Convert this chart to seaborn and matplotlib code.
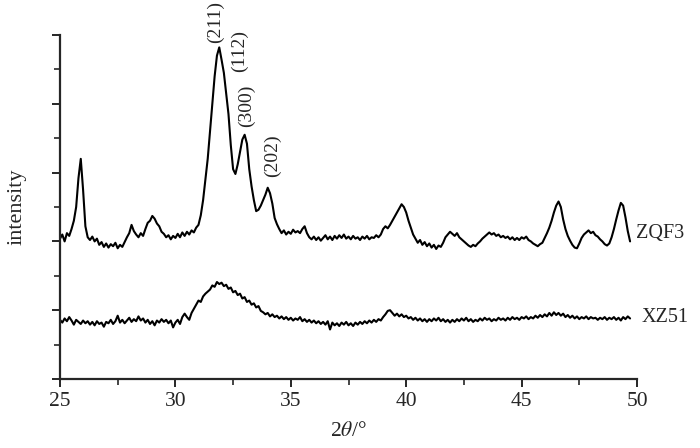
import numpy as np
import pandas as pd
import seaborn as sns
import matplotlib
matplotlib.use("Agg")
import matplotlib.pyplot as plt
from matplotlib.ticker import MultipleLocator, NullFormatter

# XRD patterns, one value per 0.1 deg starting at 25.0 deg
zqf3 = [
    2.04, 2.10, 2.00, 2.12, 2.08, 2.18, 2.30, 2.50, 2.92, 3.20,
    2.75, 2.22, 2.06, 2.02, 2.07, 2.00, 2.04, 1.95, 1.99, 1.92,
    1.97, 1.91, 1.96, 1.93, 1.98, 1.90, 1.95, 1.92, 1.99, 2.06,
    2.12, 2.24, 2.15, 2.10, 2.06, 2.12, 2.08, 2.18, 2.27, 2.30,
    2.37, 2.33, 2.26, 2.22, 2.14, 2.11, 2.06, 2.09, 2.03, 2.08,
    2.05, 2.11, 2.06, 2.13, 2.08, 2.14, 2.10, 2.16, 2.13, 2.20,
    2.24, 2.38, 2.60, 2.90, 3.20, 3.60, 4.00, 4.40, 4.70, 4.82,
    4.64, 4.45, 4.15, 3.85, 3.40, 3.05, 2.98, 3.12, 3.30, 3.48,
    3.55, 3.42, 3.05, 2.80, 2.60, 2.44, 2.46, 2.52, 2.60, 2.68,
    2.78, 2.70, 2.55, 2.34, 2.25, 2.18, 2.12, 2.16, 2.10, 2.14,
    2.11, 2.17, 2.13, 2.15, 2.12, 2.18, 2.22, 2.12, 2.06, 2.03,
    2.07, 2.02, 2.06, 2.01, 2.05, 2.09, 2.03, 2.07, 2.02, 2.08,
    2.04, 2.09, 2.05, 2.10, 2.04, 2.07, 2.03, 2.08, 2.04, 2.06,
    2.02, 2.07, 2.04, 2.08, 2.03, 2.06, 2.05, 2.09, 2.06, 2.10,
    2.18, 2.22, 2.19, 2.24, 2.30, 2.36, 2.42, 2.48, 2.54, 2.50,
    2.42, 2.30, 2.20, 2.10, 2.04, 1.98, 2.02, 1.95, 1.99, 1.93,
    1.97, 1.91, 1.95, 1.89, 1.94, 1.92, 1.98, 2.06, 2.10, 2.14,
    2.11, 2.08, 2.12, 2.06, 2.03, 2.00, 1.97, 1.94, 1.92, 1.95,
    1.93, 1.97, 2.00, 2.04, 2.07, 2.10, 2.13, 2.10, 2.12, 2.08,
    2.10, 2.06, 2.08, 2.05, 2.07, 2.03, 2.06, 2.02, 2.05, 2.02,
    2.06, 2.04, 2.07, 2.02, 2.00, 1.97, 1.95, 1.93, 1.96, 1.98,
    2.05, 2.12, 2.20, 2.30, 2.42, 2.52, 2.58, 2.50, 2.32, 2.18,
    2.08, 2.01, 1.95, 1.91, 1.90, 1.97, 2.05, 2.10, 2.13, 2.16,
    2.12, 2.14, 2.09, 2.07, 2.03, 2.00, 1.96, 1.94, 1.97, 2.06,
    2.18, 2.32, 2.45, 2.56, 2.52, 2.35, 2.15, 2.00,
]
xz51 = [
    0.86, 0.82, 0.88, 0.84, 0.90, 0.85, 0.79, 0.86, 0.83, 0.80,
    0.85, 0.81, 0.84, 0.79, 0.83, 0.78, 0.84, 0.80, 0.82, 0.76,
    0.83, 0.81, 0.86, 0.80, 0.84, 0.92, 0.82, 0.86, 0.81, 0.85,
    0.89, 0.83, 0.87, 0.84, 0.91, 0.85, 0.88, 0.82, 0.86, 0.80,
    0.84, 0.78, 0.85, 0.82, 0.87, 0.83, 0.86, 0.81, 0.85, 0.75,
    0.82, 0.86, 0.80, 0.90, 0.95, 0.90, 0.86, 0.96, 1.02, 1.08,
    1.14, 1.12, 1.20, 1.24, 1.27, 1.30, 1.36, 1.34, 1.41, 1.38,
    1.40, 1.35, 1.37, 1.31, 1.33, 1.26, 1.28, 1.22, 1.24, 1.17,
    1.19, 1.12, 1.14, 1.08, 1.10, 1.04, 1.06, 0.99, 0.97, 0.94,
    0.96, 0.91, 0.94, 0.90, 0.92, 0.88, 0.91, 0.87, 0.90, 0.86,
    0.89, 0.85, 0.88, 0.86, 0.90, 0.84, 0.87, 0.83, 0.86, 0.82,
    0.85, 0.81, 0.84, 0.80, 0.83, 0.79, 0.84, 0.72, 0.82, 0.78,
    0.81, 0.77, 0.82, 0.79, 0.83, 0.78, 0.81, 0.77, 0.82, 0.79,
    0.83, 0.80, 0.84, 0.81, 0.85, 0.82, 0.86, 0.83, 0.87, 0.85,
    0.90, 0.94, 0.99, 1.00, 0.96, 0.92, 0.95, 0.91, 0.94, 0.90,
    0.92, 0.88, 0.90, 0.86, 0.89, 0.85, 0.88, 0.84, 0.87, 0.83,
    0.87, 0.84, 0.88, 0.85, 0.89, 0.84, 0.87, 0.83, 0.86, 0.82,
    0.86, 0.83, 0.87, 0.84, 0.88, 0.85, 0.89, 0.84, 0.87, 0.83,
    0.86, 0.84, 0.88, 0.85, 0.89, 0.86, 0.88, 0.84, 0.87, 0.85,
    0.89, 0.86, 0.88, 0.85, 0.89, 0.86, 0.90, 0.87, 0.89, 0.86,
    0.90, 0.88, 0.91, 0.87, 0.90, 0.88, 0.92, 0.89, 0.93, 0.90,
    0.94, 0.91, 0.96, 0.92, 0.97, 0.93, 0.96, 0.92, 0.95, 0.90,
    0.93, 0.89, 0.92, 0.88, 0.91, 0.87, 0.90, 0.88, 0.91, 0.87,
    0.90, 0.88, 0.89, 0.86, 0.89, 0.87, 0.90, 0.86, 0.89, 0.87,
    0.90, 0.86, 0.89, 0.85, 0.90, 0.87, 0.91, 0.88,
]
two_theta = np.round(25 + 0.1 * np.arange(len(zqf3)), 1)

peak_labels = ["(211)", "(112)", "(300)", "(202)"]
peak_x = [31.72, 32.76, 33.06, 34.2]
peak_y = [4.88, 4.46, 3.66, 2.94]

sample_names = ["ZQF3", "XZ51"]
sample_x = [49.95, 50.2]
sample_y = [2.12, 0.89]

df = pd.DataFrame({"2theta": two_theta, "ZQF3": zqf3, "XZ51": xz51})

sns.set_style("ticks")
plt.rcParams["font.family"] = ["Liberation Serif", "DejaVu Serif"]
plt.rcParams["mathtext.fontset"] = "stix"

fig = plt.figure(figsize=(7, 4.48), dpi=100)
ax = fig.add_axes([60 / 700, 1 - 379 / 448, 577 / 700, 344 / 448])

sns.lineplot(data=df, x="2theta", y="ZQF3", color="black", lw=1.5, ax=ax)
sns.lineplot(data=df, x="2theta", y="XZ51", color="black", lw=1.5, ax=ax)

for lab, px, py in zip(peak_labels, peak_x, peak_y):
    ax.text(px, py, lab, rotation=90, ha="center", va="bottom", fontsize=14, clip_on=False)
for name, sx, sy in zip(sample_names, sample_x, sample_y):
    ax.text(sx, sy, name, ha="left", va="center", fontsize=14.5, clip_on=False)

ax.set_xlim(25, 50)
ax.set_ylim(0, 5)
ax.xaxis.set_major_locator(MultipleLocator(5))
ax.xaxis.set_minor_locator(MultipleLocator(2.5))
ax.yaxis.set_major_locator(MultipleLocator(1))
ax.yaxis.set_minor_locator(MultipleLocator(0.5))
ax.yaxis.set_major_formatter(NullFormatter())
ax.tick_params(which="major", length=6, width=1.4, labelsize=15.5, pad=3)
ax.tick_params(which="minor", length=4, width=1.2)
sns.despine(ax=ax)
for s in ["left", "bottom"]:
    ax.spines[s].set_linewidth(1.6)

ax.set_xlabel(r"2$\theta$/°", fontsize=15.5, labelpad=8)
ax.set_ylabel("intensity", fontsize=16, labelpad=15)

fig.savefig("out.png", dpi=100)
